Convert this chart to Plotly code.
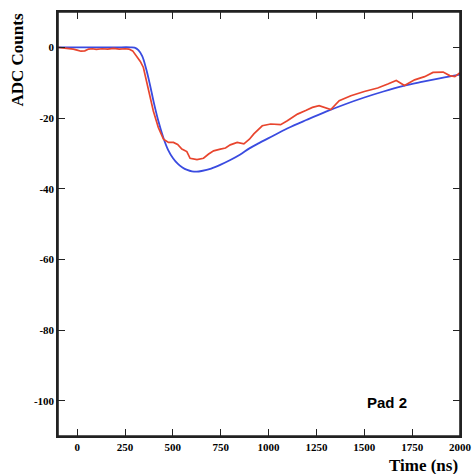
import plotly.graph_objects as go

# Fit (blue) curve
fit_t = [-100, 0, 100, 200, 280, 300, 320, 340, 360, 380, 400, 425, 450, 475, 500, 525, 550, 575,
         600, 625, 650, 700, 750, 800, 850, 900, 950, 1000, 1100, 1200, 1300, 1400, 1500, 1600,
         1700, 1800, 1900, 2000]
fit_adc = [0, 0, 0, 0, 0, -0.1, -0.8, -2.5, -6, -10.5, -15.5, -21, -25.5, -29, -31.3, -32.9, -34,
           -34.7, -35.1, -35.2, -35.0, -34.3, -33.2, -31.9, -30.4, -28.6, -27.1, -25.7, -22.9,
           -20.5, -18.2, -16.1, -14.2, -12.5, -11.0, -9.8, -8.7, -7.7]

# Measured (red) signal
data_t = [-100, -80, -50, -20, 0, 20, 40, 60, 80, 100, 130, 160, 190, 220, 250, 270, 290, 310, 330,
          346, 365, 381, 398, 424, 451, 477, 503, 525, 547, 573, 590, 626, 660, 687, 713, 748, 775,
          800, 836, 871, 900, 923, 967, 1011, 1040, 1063, 1098, 1151, 1194, 1229, 1264, 1299,
          1325, 1369, 1430, 1500, 1570, 1623, 1667, 1710, 1763, 1815, 1859, 1912, 1946, 1973, 2000]
data_adc = [0, -0.1, -0.3, -0.5, -0.8, -1.1, -1.0, -0.5, -0.4, -0.6, -0.4, -0.5, -0.3, -0.5, -0.4,
            -0.5, -1.0, -2.5, -4.0, -5.7, -10, -14, -18, -22.7, -26, -26.9, -26.9, -27.5, -28.8,
            -29.5, -31.4, -31.8, -31.4, -30.2, -29.3, -28.8, -28.5, -27.6, -26.9, -27.3, -26,
            -24.5, -22.2, -21.7, -21.8, -21.9, -20.8, -18.9, -17.9, -17.0, -16.5, -17.1, -17.6,
            -15.1, -13.7, -12.5, -11.5, -10.4, -9.4, -10.8, -9.2, -8.3, -7.1, -7.0, -8.0, -8.3, -7.2]

x_ticks = [0, 250, 500, 750, 1000, 1250, 1500, 1750, 2000]
x_labels = ["0", "250", "500", "750", "1000", "1250", "1500", "1750", "2000"]
y_ticks = [0, -20, -40, -60, -80, -100]
y_labels = ["0", "-20", "-40", "-60", "-80", "-100"]

fig = go.Figure()
fig.add_trace(go.Scatter(x=fit_t, y=fit_adc, mode="lines", line=dict(color="#3a4be0", width=1.8, shape="spline"),
                         showlegend=False))
fig.add_trace(go.Scatter(x=data_t, y=data_adc, mode="lines", line=dict(color="#e8452e", width=1.7),
                         showlegend=False))

tickfont = dict(family="Liberation Serif", size=11, color="black", weight="bold")
axis_common = dict(ticks="inside", ticklen=7, tickwidth=1.2, tickcolor="#222222", showgrid=False,
                   zeroline=False, showline=True, linecolor="#222222", linewidth=1.5,
                   mirror="allticks", tickfont=tickfont)
fig.update_layout(
    width=474, height=474,
    margin=dict(l=58, r=14, t=12, b=38, autoexpand=False),
    paper_bgcolor="white", plot_bgcolor="white",
    xaxis=dict(range=[-100, 2000], tickmode="array", tickvals=x_ticks, ticktext=x_labels, **axis_common),
    yaxis=dict(range=[-110, 10], tickmode="array", tickvals=y_ticks, ticktext=y_labels, **axis_common),
    shapes=[dict(type="rect", xref="paper", yref="paper", x0=0, y0=0, x1=1, y1=1,
                 line=dict(color="#222222", width=1.6), fillcolor="rgba(0,0,0,0)", layer="above")],
    annotations=[
        dict(text="ADC Counts", textangle=-90, xref="paper", yref="paper", x=(17 - 58) / 402, y=1.0,
             xanchor="center", yanchor="top", showarrow=False,
             font=dict(family="Liberation Serif", size=17, color="black", weight="bold")),
        dict(text="Time (ns)", xref="paper", yref="paper", x=1.0, y=(436 - 465) / 424,
             xanchor="right", yanchor="middle", showarrow=False,
             font=dict(family="Liberation Serif", size=17, color="black", weight="bold")),
        dict(text="Pad 2", xref="paper", yref="paper", x=(365 - 58) / 402, y=(436 - 402) / 424,
             xanchor="left", yanchor="middle", showarrow=False,
             font=dict(family="Liberation Sans", size=15, color="black", weight="bold")),
    ],
)

fig.write_html("out.html", config={"displayModeBar": False},
               post_script="document.body.style.margin='0';document.body.style.overflow='hidden';")
